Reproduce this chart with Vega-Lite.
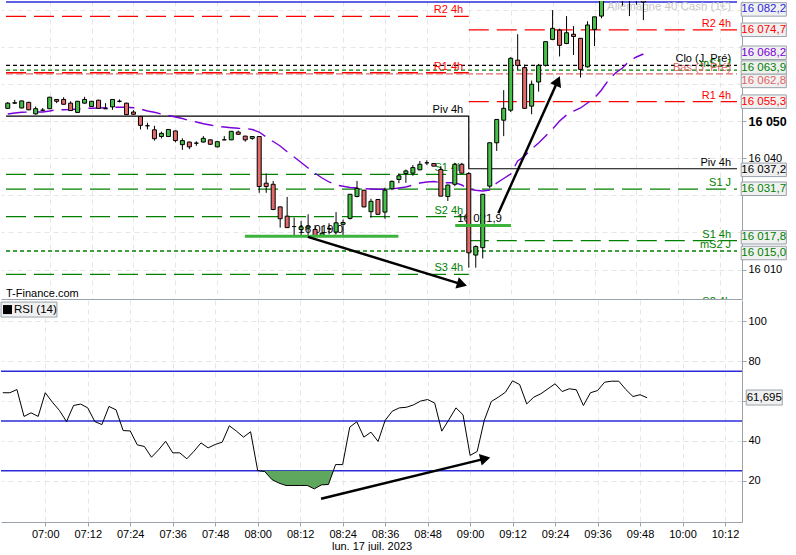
{
  "$schema": "https://vega.github.io/schema/vega-lite/v6.json",
  "padding": 0,
  "background": "white",
  "spacing": 1,
  "config": {
    "view": {"stroke": null},
    "font": "Liberation Sans",
    "text": {"font": "Liberation Sans", "fontSize": 11},
    "axis": {"labelFont": "Liberation Sans", "titleFont": "Liberation Sans", "labelColor": "#000000", "titleColor": "#000000"}
  },
  "resolve": {"scale": {"x": "independent", "y": "independent", "color": "independent"}},
  "datasets": {
    "bars": [
      {"m": 48, "o": 16053.5, "h": 16055.2, "l": 16053.3, "c": 16054.9, "ma": 16051.97, "rsi": 64.2},
      {"m": 50, "o": 16054.9, "h": 16055.8, "l": 16054.7, "c": 16055.0, "ma": 16052.24, "rsi": 64.2},
      {"m": 52, "o": 16053.6, "h": 16055.6, "l": 16053.5, "c": 16055.5, "ma": 16052.43, "rsi": 65.8},
      {"m": 54, "o": 16055.1, "h": 16055.3, "l": 16053.0, "c": 16053.1, "ma": 16052.51, "rsi": 52.3},
      {"m": 56, "o": 16052.0, "h": 16054.0, "l": 16051.8, "c": 16053.4, "ma": 16052.51, "rsi": 54.1},
      {"m": 58, "o": 16053.0, "h": 16053.6, "l": 16052.8, "c": 16053.0, "ma": 16052.51, "rsi": 52.3},
      {"m": 60, "o": 16053.4, "h": 16056.6, "l": 16053.3, "c": 16056.5, "ma": 16052.78, "rsi": 64.2},
      {"m": 62, "o": 16055.9, "h": 16056.0, "l": 16054.9, "c": 16055.4, "ma": 16053.13, "rsi": 59.5},
      {"m": 64, "o": 16055.9, "h": 16056.5, "l": 16054.5, "c": 16054.6, "ma": 16053.13, "rsi": 55.3},
      {"m": 66, "o": 16054.9, "h": 16055.4, "l": 16052.8, "c": 16052.9, "ma": 16053.19, "rsi": 49.7},
      {"m": 68, "o": 16052.4, "h": 16055.5, "l": 16052.3, "c": 16055.4, "ma": 16053.32, "rsi": 57.8},
      {"m": 70, "o": 16054.9, "h": 16056.6, "l": 16054.8, "c": 16055.9, "ma": 16053.51, "rsi": 58.5},
      {"m": 72, "o": 16054.0, "h": 16055.5, "l": 16053.9, "c": 16055.4, "ma": 16053.51, "rsi": 56.6},
      {"m": 74, "o": 16055.7, "h": 16055.8, "l": 16053.4, "c": 16053.5, "ma": 16053.59, "rsi": 49.7},
      {"m": 76, "o": 16053.4, "h": 16054.9, "l": 16053.4, "c": 16053.4, "ma": 16053.67, "rsi": 48.2},
      {"m": 78, "o": 16053.9, "h": 16056.0, "l": 16053.1, "c": 16055.9, "ma": 16053.78, "rsi": 57.3},
      {"m": 80, "o": 16055.4, "h": 16055.9, "l": 16055.1, "c": 16055.4, "ma": 16053.78, "rsi": 55.6},
      {"m": 82, "o": 16054.9, "h": 16055.0, "l": 16051.7, "c": 16051.8, "ma": 16053.78, "rsi": 45.2},
      {"m": 84, "o": 16052.5, "h": 16053.0, "l": 16051.8, "c": 16051.9, "ma": 16053.64, "rsi": 45.0},
      {"m": 86, "o": 16051.3, "h": 16051.4, "l": 16047.8, "c": 16048.9, "ma": 16053.32, "rsi": 38.0},
      {"m": 88, "o": 16048.8, "h": 16049.6, "l": 16047.8, "c": 16048.8, "ma": 16052.78, "rsi": 37.2},
      {"m": 90, "o": 16047.7, "h": 16048.8, "l": 16044.8, "c": 16045.3, "ma": 16052.43, "rsi": 31.8},
      {"m": 92, "o": 16045.9, "h": 16047.2, "l": 16045.4, "c": 16046.75, "ma": 16051.97, "rsi": 35.5},
      {"m": 94, "o": 16045.9, "h": 16047.9, "l": 16045.8, "c": 16047.8, "ma": 16051.57, "rsi": 39.8},
      {"m": 96, "o": 16047.4, "h": 16047.5, "l": 16044.3, "c": 16044.8, "ma": 16051.16, "rsi": 34.0},
      {"m": 98, "o": 16043.7, "h": 16045.4, "l": 16042.3, "c": 16044.8, "ma": 16050.76, "rsi": 34.0},
      {"m": 100, "o": 16044.4, "h": 16044.5, "l": 16042.5, "c": 16043.1, "ma": 16050.22, "rsi": 31.0},
      {"m": 102, "o": 16044.1, "h": 16044.6, "l": 16043.4, "c": 16044.1, "ma": 16049.81, "rsi": 34.8},
      {"m": 104, "o": 16044.4, "h": 16046.0, "l": 16044.3, "c": 16045.4, "ma": 16049.35, "rsi": 39.0},
      {"m": 106, "o": 16045.0, "h": 16045.1, "l": 16043.7, "c": 16043.8, "ma": 16049.0, "rsi": 36.5},
      {"m": 108, "o": 16043.1, "h": 16044.6, "l": 16043.0, "c": 16044.5, "ma": 16048.65, "rsi": 38.2},
      {"m": 110, "o": 16045.0, "h": 16046.0, "l": 16045.0, "c": 16045.0, "ma": 16048.46, "rsi": 39.4},
      {"m": 112, "o": 16045.0, "h": 16047.3, "l": 16044.9, "c": 16047.3, "ma": 16048.27, "rsi": 47.6},
      {"m": 114, "o": 16047.1, "h": 16047.5, "l": 16046.3, "c": 16046.5, "ma": 16048.11, "rsi": 44.9},
      {"m": 116, "o": 16046.0, "h": 16046.1, "l": 16044.5, "c": 16045.0, "ma": 16048.06, "rsi": 41.9},
      {"m": 118, "o": 16045.4, "h": 16046.0, "l": 16045.0, "c": 16045.9, "ma": 16047.79, "rsi": 44.6},
      {"m": 120, "o": 16045.9, "h": 16046.0, "l": 16030.7, "c": 16032.4, "ma": 16047.11, "rsi": 25.1},
      {"m": 122, "o": 16033.3, "h": 16035.9, "l": 16030.7, "c": 16032.4, "ma": 16045.76, "rsi": 24.6},
      {"m": 124, "o": 16033.0, "h": 16033.9, "l": 16026.0, "c": 16026.2, "ma": 16044.55, "rsi": 20.6},
      {"m": 126, "o": 16026.9, "h": 16027.0, "l": 16021.3, "c": 16023.7, "ma": 16043.33, "rsi": 18.8},
      {"m": 128, "o": 16024.4, "h": 16029.6, "l": 16021.2, "c": 16021.3, "ma": 16041.8, "rsi": 17.6},
      {"m": 130, "o": 16021.6, "h": 16024.0, "l": 16019.0, "c": 16021.6, "ma": 16040.36, "rsi": 17.6},
      {"m": 132, "o": 16020.8, "h": 16023.1, "l": 16019.0, "c": 16021.5, "ma": 16038.88, "rsi": 17.6},
      {"m": 134, "o": 16021.2, "h": 16024.9, "l": 16019.0, "c": 16021.7, "ma": 16037.4, "rsi": 17.6},
      {"m": 136, "o": 16020.8, "h": 16022.0, "l": 16018.9, "c": 16019.0, "ma": 16035.97, "rsi": 15.9},
      {"m": 138, "o": 16019.0, "h": 16021.7, "l": 16018.9, "c": 16019.8, "ma": 16034.7, "rsi": 17.9},
      {"m": 140, "o": 16021.0, "h": 16022.5, "l": 16019.5, "c": 16021.0, "ma": 16033.62, "rsi": 18.1},
      {"m": 142, "o": 16020.1, "h": 16025.5, "l": 16019.5, "c": 16022.6, "ma": 16032.81, "rsi": 28.1},
      {"m": 144, "o": 16022.2, "h": 16023.5, "l": 16019.0, "c": 16022.7, "ma": 16032.46, "rsi": 28.1},
      {"m": 146, "o": 16023.8, "h": 16030.3, "l": 16023.5, "c": 16030.3, "ma": 16032.13, "rsi": 46.9},
      {"m": 148, "o": 16029.7, "h": 16033.9, "l": 16029.5, "c": 16031.9, "ma": 16032.0, "rsi": 49.6},
      {"m": 150, "o": 16031.4, "h": 16031.5, "l": 16026.8, "c": 16026.9, "ma": 16031.81, "rsi": 41.9},
      {"m": 152, "o": 16025.6, "h": 16029.1, "l": 16024.0, "c": 16028.4, "ma": 16031.73, "rsi": 44.4},
      {"m": 154, "o": 16028.9, "h": 16029.0, "l": 16024.8, "c": 16024.9, "ma": 16031.65, "rsi": 39.7},
      {"m": 156, "o": 16025.5, "h": 16032.1, "l": 16023.7, "c": 16031.4, "ma": 16031.65, "rsi": 50.3},
      {"m": 158, "o": 16031.8, "h": 16034.0, "l": 16031.4, "c": 16033.8, "ma": 16031.73, "rsi": 54.9},
      {"m": 160, "o": 16034.3, "h": 16035.9, "l": 16033.3, "c": 16035.3, "ma": 16032.0, "rsi": 56.6},
      {"m": 162, "o": 16035.9, "h": 16037.0, "l": 16033.4, "c": 16036.6, "ma": 16032.27, "rsi": 56.9},
      {"m": 164, "o": 16036.0, "h": 16038.2, "l": 16035.3, "c": 16037.5, "ma": 16032.81, "rsi": 58.1},
      {"m": 166, "o": 16036.9, "h": 16039.3, "l": 16036.8, "c": 16038.4, "ma": 16033.35, "rsi": 60.0},
      {"m": 168, "o": 16038.8, "h": 16039.5, "l": 16038.2, "c": 16038.8, "ma": 16033.62, "rsi": 60.8},
      {"m": 170, "o": 16038.6, "h": 16038.7, "l": 16037.9, "c": 16037.9, "ma": 16033.75, "rsi": 59.0},
      {"m": 172, "o": 16037.0, "h": 16037.9, "l": 16029.8, "c": 16029.8, "ma": 16033.43, "rsi": 44.9},
      {"m": 174, "o": 16029.7, "h": 16032.9, "l": 16028.5, "c": 16032.8, "ma": 16033.43, "rsi": 50.6},
      {"m": 176, "o": 16033.0, "h": 16038.8, "l": 16032.5, "c": 16038.4, "ma": 16033.43, "rsi": 56.6},
      {"m": 178, "o": 16038.4, "h": 16038.8, "l": 16035.9, "c": 16036.0, "ma": 16032.81, "rsi": 53.1},
      {"m": 180, "o": 16035.9, "h": 16036.3, "l": 16010.5, "c": 16014.5, "ma": 16031.73, "rsi": 32.7},
      {"m": 182, "o": 16013.9, "h": 16016.5, "l": 16010.5, "c": 16016.2, "ma": 16031.38, "rsi": 34.7},
      {"m": 184, "o": 16015.9, "h": 16030.4, "l": 16013.0, "c": 16030.3, "ma": 16031.19, "rsi": 50.3},
      {"m": 186, "o": 16032.5, "h": 16044.3, "l": 16031.9, "c": 16044.2, "ma": 16031.46, "rsi": 59.8},
      {"m": 188, "o": 16044.2, "h": 16050.6, "l": 16042.0, "c": 16050.5, "ma": 16033.35, "rsi": 62.0},
      {"m": 190, "o": 16050.3, "h": 16058.4, "l": 16046.0, "c": 16053.5, "ma": 16034.56, "rsi": 64.5},
      {"m": 192, "o": 16053.0, "h": 16067.3, "l": 16052.5, "c": 16067.0, "ma": 16035.78, "rsi": 70.2},
      {"m": 194, "o": 16066.5, "h": 16073.5, "l": 16063.9, "c": 16065.1, "ma": 16039.29, "rsi": 68.3},
      {"m": 196, "o": 16064.5, "h": 16065.3, "l": 16053.4, "c": 16053.5, "ma": 16040.63, "rsi": 58.6},
      {"m": 198, "o": 16054.1, "h": 16061.0, "l": 16051.9, "c": 16060.0, "ma": 16042.52, "rsi": 62.0},
      {"m": 200, "o": 16060.6, "h": 16065.5, "l": 16058.0, "c": 16065.1, "ma": 16044.14, "rsi": 63.7},
      {"m": 202, "o": 16065.1, "h": 16071.6, "l": 16064.8, "c": 16071.5, "ma": 16046.03, "rsi": 66.2},
      {"m": 204, "o": 16072.1, "h": 16080.0, "l": 16071.9, "c": 16075.1, "ma": 16047.92, "rsi": 68.7},
      {"m": 206, "o": 16074.6, "h": 16075.0, "l": 16067.5, "c": 16070.5, "ma": 16050.08, "rsi": 64.8},
      {"m": 208, "o": 16071.0, "h": 16078.4, "l": 16070.8, "c": 16073.9, "ma": 16051.7, "rsi": 66.2},
      {"m": 210, "o": 16073.5, "h": 16075.7, "l": 16067.9, "c": 16072.9, "ma": 16052.78, "rsi": 65.7},
      {"m": 212, "o": 16072.4, "h": 16072.5, "l": 16061.8, "c": 16064.0, "ma": 16053.59, "rsi": 57.8},
      {"m": 214, "o": 16064.7, "h": 16077.0, "l": 16064.5, "c": 16076.0, "ma": 16054.94, "rsi": 64.2},
      {"m": 216, "o": 16074.8, "h": 16078.2, "l": 16070.3, "c": 16078.2, "ma": 16056.29, "rsi": 65.3},
      {"m": 218, "o": 16078.4, "h": 16087.0, "l": 16077.8, "c": 16085.5, "ma": 16058.45, "rsi": 69.5},
      {"m": 220, "o": 16085.5, "h": 16088.0, "l": 16084.0, "c": 16087.0, "ma": 16061.15, "rsi": 70.0},
      {"m": 222, "o": 16087.0, "h": 16089.0, "l": 16085.0, "c": 16087.5, "ma": 16063.04, "rsi": 70.0},
      {"m": 224, "o": 16087.5, "h": 16088.0, "l": 16081.2, "c": 16084.5, "ma": 16064.39, "rsi": 65.8},
      {"m": 226, "o": 16085.0, "h": 16086.0, "l": 16078.4, "c": 16083.5, "ma": 16066.28, "rsi": 62.3},
      {"m": 228, "o": 16083.5, "h": 16085.0, "l": 16081.5, "c": 16084.0, "ma": 16067.36, "rsi": 63.2},
      {"m": 230, "o": 16084.0, "h": 16084.5, "l": 16077.3, "c": 16082.2, "ma": 16068.17, "rsi": 61.7}
    ],
    "levels": [
      {"kind": "r4h", "v": 16078.3, "m1": 47.5, "m2": 180},
      {"kind": "r4h", "v": 16063.1, "m1": 47.5, "m2": 180},
      {"kind": "s4h", "v": 16035.7, "m1": 47.5, "m2": 180},
      {"kind": "s4h", "v": 16024.25, "m1": 47.5, "m2": 180},
      {"kind": "s4h", "v": 16008.7, "m1": 47.5, "m2": 180},
      {"kind": "r4h", "v": 16074.7, "m1": 180, "m2": 256.8},
      {"kind": "r4h", "v": 16055.3, "m1": 180, "m2": 256.8},
      {"kind": "s4h", "v": 16017.8, "m1": 180, "m2": 256.8},
      {"kind": "clo", "v": 16065.1, "m1": 47.5, "m2": 256.8},
      {"kind": "msj", "v": 16063.8, "m1": 47.5, "m2": 256.8},
      {"kind": "bas", "v": 16062.8, "m1": 47.5, "m2": 256.8},
      {"kind": "sj", "v": 16031.7, "m1": 47.5, "m2": 256.8},
      {"kind": "msj", "v": 16015.0, "m1": 47.5, "m2": 256.8},
      {"kind": "last", "v": 16082.2, "m1": 47.5, "m2": 256.8}
    ],
    "pivot": [
      {"n": 1, "m": 47.5, "v": 16051.4},
      {"n": 2, "m": 180, "v": 16051.4},
      {"n": 3, "m": 180, "v": 16037.2},
      {"n": 4, "m": 256.8, "v": 16037.2}
    ],
    "labels": [
      {"text": "R2 4h", "kind": "r4h", "v": 16078.3, "m": 178.4},
      {"text": "R1 4h", "kind": "r4h", "v": 16063.1, "m": 178.4},
      {"text": "Piv 4h", "kind": "piv", "v": 16051.4, "m": 178.4},
      {"text": "S1 4h", "kind": "s4h", "v": 16035.7, "m": 178.4},
      {"text": "S2 4h", "kind": "s4h", "v": 16024.25, "m": 178.4},
      {"text": "S3 4h", "kind": "s4h", "v": 16008.7, "m": 178.4},
      {"text": "R2 4h", "kind": "r4h", "v": 16074.7, "m": 255.1},
      {"text": "Clo (J. Pré)", "kind": "clo", "v": 16065.1, "m": 255.1},
      {"text": "mS1 J", "kind": "msj", "v": 16063.8, "m": 255.1},
      {"text": "Bas (J. Pré)", "kind": "bas", "v": 16062.8, "m": 255.1},
      {"text": "R1 4h", "kind": "r4h", "v": 16055.3, "m": 255.1},
      {"text": "Piv 4h", "kind": "piv", "v": 16037.2, "m": 255.1},
      {"text": "S1 J", "kind": "sj", "v": 16031.7, "m": 255.1},
      {"text": "S1 4h", "kind": "s4h", "v": 16017.8, "m": 255.1},
      {"text": "mS2 J", "kind": "msj", "v": 16015.0, "m": 255.1},
      {"text": "S2 4h", "kind": "s4h", "v": 15999.7, "m": 255.1}
    ],
    "tags": [
      {"text": "16 082,2", "kind": "last", "v": 16080.2},
      {"text": "16 074,7", "kind": "r4h", "v": 16074.7},
      {"text": "16 068,2", "kind": "ma", "v": 16068.5},
      {"text": "16 063,9", "kind": "msj", "v": 16064.5},
      {"text": "16 062,8", "kind": "bas", "v": 16060.9},
      {"text": "16 055,3", "kind": "r4h", "v": 16055.3},
      {"text": "16 037,2", "kind": "piv", "v": 16036.9},
      {"text": "16 031,7", "kind": "sj", "v": 16031.8},
      {"text": "16 017,8", "kind": "s4h", "v": 16018.7},
      {"text": "16 015,0", "kind": "msj", "v": 16014.45}
    ],
    "supports": [
      {"m1": 115.9, "m2": 159.85, "v": 16019.0, "text": "16 019,0", "ml": 137.6},
      {"m1": 176.12, "m2": 192.08, "v": 16021.9, "text": "16 021,9", "ml": 183.1}
    ],
    "arrows": [
      {"id": "a1", "m": 133.93, "v": 16018.8},
      {"id": "a1", "m": 178.07, "v": 16006.0},
      {"id": "a2", "m": 188.47, "v": 16025.2},
      {"id": "a2", "m": 205.47, "v": 16060.9}
    ],
    "notes": [
      {"text": "Allemagne 40 Cash (1€)", "m": 255.1, "v": 16080.9},
      {"text": "T-Finance.com", "m": 47.5, "v": 16002.6}
    ],
    "rsiLevels": [{"v": 25}, {"v": 50}, {"v": 75}],
    "rsiFill": [
      {"m": 120, "rsi": 25.0},
      {"m": 122, "rsi": 24.6},
      {"m": 124, "rsi": 20.6},
      {"m": 126, "rsi": 18.8},
      {"m": 128, "rsi": 17.6},
      {"m": 130, "rsi": 17.6},
      {"m": 132, "rsi": 17.6},
      {"m": 134, "rsi": 17.6},
      {"m": 136, "rsi": 15.9},
      {"m": 138, "rsi": 17.9},
      {"m": 140, "rsi": 18.1},
      {"m": 141.4, "rsi": 25.0}
    ],
    "rsiArrow": [
      {"m": 137.9, "v": 10.9},
      {"m": 184.28, "v": 31.1}
    ]
  },
  "vconcat": [
    {
      "width": 741,
      "height": 298,
      "layer": [
        {
          "data": {"name": "levels"},
          "transform": [{"filter": "datum.kind == 'r4h' || datum.kind == 's4h' || datum.kind == 'sj'"}],
          "mark": {"type": "rule", "strokeWidth": 1.3, "strokeDash": [20, 8]},
          "encoding": {
            "x": {
              "field": "m1", "type": "quantitative", "title": null,
              "scale": {"domain": [47.5, 256.8], "nice": false, "zero": false},
              "axis": {
                "values": [60, 72, 84, 96, 108, 120, 132, 144, 156, 168, 180, 192, 204, 216, 228, 240, 252],
                "labels": false, "ticks": false, "domain": true, "domainColor": "#9aa3ab",
                "grid": true, "gridColor": "#e6e6e6", "gridDash": [5, 4], "zindex": 0
              }
            },
            "x2": {"field": "m2"},
            "y": {
              "field": "v", "type": "quantitative", "title": null,
              "scale": {"domain": [16002.04, 16082.47], "nice": false, "zero": false},
              "axis": {
                "orient": "right",
                "values": [16010, 16020, 16030, 16040, 16050, 16060, 16070, 16080],
                "labelExpr": "indexof([16010, 16040, 16050], datum.value) >= 0 ? replace(format(datum.value, ','), ',', ' ') : ''",
                "labelFontWeight": {"condition": {"test": "datum.value == 16050", "value": "bold"}, "value": "normal"},
                "labelFontSize": {"condition": {"test": "datum.value == 16050", "value": 12.5}, "value": 11},
                "labelOverlap": false,
                "tickSize": 4, "tickColor": "#9aa3ab", "domainColor": "#9aa3ab", "labelPadding": 2,
                "grid": true, "gridColor": "#e6e6e6", "gridDash": [5, 4], "zindex": 0
              }
            },
            "color": {
              "field": "kind", "type": "nominal", "legend": null,
              "scale": {
                "domain": ["r4h", "s4h", "piv", "clo", "msj", "bas", "sj", "last", "ma"],
                "range": ["#ff0000", "#008000", "#000000", "#000000", "#008000", "#e06666", "#008000", "#2b2bd9", "#7a00d9"]
              }
            }
          }
        },
        {
          "data": {"name": "levels"},
          "transform": [{"filter": "datum.kind == 'clo' || datum.kind == 'msj'"}],
          "mark": {"type": "rule", "strokeWidth": 1.3, "strokeDash": [4, 3]},
          "encoding": {
            "x": {"field": "m1", "type": "quantitative", "title": null},
            "x2": {"field": "m2"},
            "y": {"field": "v", "type": "quantitative", "title": null},
            "color": {"field": "kind", "type": "nominal", "legend": null}
          }
        },
        {
          "data": {"name": "levels"},
          "transform": [{"filter": "datum.kind == 'bas'"}],
          "mark": {"type": "rule", "strokeWidth": 1.3, "strokeDash": [7, 3]},
          "encoding": {
            "x": {"field": "m1", "type": "quantitative", "title": null},
            "x2": {"field": "m2"},
            "y": {"field": "v", "type": "quantitative", "title": null},
            "color": {"field": "kind", "type": "nominal", "legend": null}
          }
        },
        {
          "data": {"name": "levels"},
          "transform": [{"filter": "datum.kind == 'last'"}],
          "mark": {"type": "rule", "strokeWidth": 1.5},
          "encoding": {
            "x": {"field": "m1", "type": "quantitative", "title": null},
            "x2": {"field": "m2"},
            "y": {"field": "v", "type": "quantitative", "title": null},
            "color": {"field": "kind", "type": "nominal", "legend": null}
          }
        },
        {
          "data": {"name": "pivot"},
          "mark": {"type": "line", "color": "#000000", "strokeWidth": 1.2},
          "encoding": {
            "x": {"field": "m", "type": "quantitative", "title": null},
            "y": {"field": "v", "type": "quantitative", "title": null},
            "order": {"field": "n", "type": "quantitative"}
          }
        },
        {
          "data": {"name": "labels"},
          "mark": {"type": "text", "align": "right", "baseline": "alphabetic", "dy": -3, "fontSize": 11, "clip": true},
          "encoding": {
            "x": {"field": "m", "type": "quantitative", "title": null},
            "y": {"field": "v", "type": "quantitative", "title": null},
            "text": {"field": "text"},
            "color": {"field": "kind", "type": "nominal", "legend": null}
          }
        },
        {
          "data": {"name": "notes"},
          "transform": [{"filter": "datum.m > 100"}],
          "mark": {"type": "text", "align": "right", "baseline": "middle", "fontSize": 11.5, "color": "#c8c8c8"},
          "encoding": {
            "x": {"field": "m", "type": "quantitative", "title": null},
            "y": {"field": "v", "type": "quantitative", "title": null},
            "text": {"field": "text"}
          }
        },
        {
          "data": {"name": "notes"},
          "transform": [{"filter": "datum.m < 100"}],
          "mark": {"type": "text", "align": "left", "baseline": "alphabetic", "fontSize": 11, "color": "#000000"},
          "encoding": {
            "x": {"field": "m", "type": "quantitative", "title": null},
            "y": {"field": "v", "type": "quantitative", "title": null},
            "text": {"field": "text"}
          }
        },
        {
          "data": {"name": "supports"},
          "mark": {"type": "text", "align": "center", "baseline": "alphabetic", "dy": -3, "fontSize": 11.5, "color": "#000000"},
          "encoding": {
            "x": {"field": "ml", "type": "quantitative", "title": null},
            "y": {"field": "v", "type": "quantitative", "title": null},
            "text": {"field": "text"}
          }
        },
        {
          "data": {"name": "bars"},
          "mark": {"type": "line", "color": "#7a00d9", "strokeWidth": 1.4, "strokeDash": [19, 8], "clip": true},
          "encoding": {
            "x": {"field": "m", "type": "quantitative", "title": null},
            "y": {"field": "ma", "type": "quantitative", "title": null}
          }
        },
        {
          "data": {"name": "bars"},
          "mark": {"type": "rule", "color": "#000000", "strokeWidth": 1, "clip": true},
          "encoding": {
            "x": {"field": "m", "type": "quantitative", "title": null},
            "y": {"field": "l", "type": "quantitative", "title": null},
            "y2": {"field": "h"}
          }
        },
        {
          "data": {"name": "bars"},
          "mark": {"type": "bar", "width": 4, "stroke": "#000000", "strokeWidth": 1, "clip": true},
          "encoding": {
            "x": {"field": "m", "type": "quantitative", "title": null},
            "y": {"field": "o", "type": "quantitative", "title": null},
            "y2": {"field": "c"},
            "color": {
              "condition": {"test": "datum.c >= datum.o", "value": "#47c047"},
              "value": "#e26a6a"
            }
          }
        },
        {
          "data": {"name": "supports"},
          "mark": {"type": "rule", "color": "#3cb43c", "strokeWidth": 3},
          "encoding": {
            "x": {"field": "m1", "type": "quantitative", "title": null},
            "x2": {"field": "m2"},
            "y": {"field": "v", "type": "quantitative", "title": null}
          }
        },
        {
          "data": {"name": "arrows"},
          "mark": {"type": "line", "color": "#000000", "strokeWidth": 2.5},
          "encoding": {
            "x": {"field": "m", "type": "quantitative", "title": null},
            "y": {"field": "v", "type": "quantitative", "title": null},
            "detail": {"field": "id"}
          }
        },
        {
          "data": {"name": "arrows"},
          "transform": [{"filter": "datum.id == 'a1' && datum.v < 16010"}],
          "mark": {"type": "point", "shape": "triangle-right", "filled": true, "color": "#000000", "opacity": 1, "size": 140, "angle": 16.5},
          "encoding": {
            "x": {"field": "m", "type": "quantitative", "title": null},
            "y": {"field": "v", "type": "quantitative", "title": null}
          }
        },
        {
          "data": {"name": "arrows"},
          "transform": [{"filter": "datum.id == 'a2' && datum.v > 16050"}],
          "mark": {"type": "point", "shape": "triangle-right", "filled": true, "color": "#000000", "opacity": 1, "size": 140, "angle": 294.2},
          "encoding": {
            "x": {"field": "m", "type": "quantitative", "title": null},
            "y": {"field": "v", "type": "quantitative", "title": null}
          }
        },
        {
          "data": {"name": "tags"},
          "mark": {"type": "rect", "fill": "#f0f0f0", "stroke": "#9aa3ab", "strokeWidth": 1, "yOffset": -6.75, "y2Offset": 6.75},
          "encoding": {
            "x": {"datum": 258.0, "type": "quantitative"},
            "x2": {"datum": 270.92},
            "y": {"field": "v", "type": "quantitative", "title": null},
            "y2": {"field": "v"}
          }
        },
        {
          "data": {"name": "tags"},
          "mark": {"type": "text", "align": "center", "baseline": "middle", "fontSize": 11.5},
          "encoding": {
            "x": {"datum": 264.45, "type": "quantitative"},
            "y": {"field": "v", "type": "quantitative", "title": null},
            "text": {"field": "text"},
            "color": {"field": "kind", "type": "nominal", "legend": null}
          }
        }
      ]
    },
    {
      "width": 741,
      "height": 222,
      "layer": [
        {
          "data": {"name": "rsiLevels"},
          "mark": {"type": "rule", "color": "#2b2bd9", "strokeWidth": 1.3},
          "encoding": {
            "y": {
              "field": "v", "type": "quantitative", "title": null,
              "scale": {"domain": [-0.75, 110.8], "nice": false, "zero": false},
              "axis": {
                "orient": "right",
                "values": [20, 40, 60, 80, 100],
                "tickSize": 4, "tickColor": "#9aa3ab", "domainColor": "#9aa3ab", "labelPadding": 2,
                "labelFontSize": 11,
                "grid": true, "gridColor": "#e6e6e6", "gridDash": [5, 4],
                "zindex": 0
              }
            }
          }
        },
        {
          "data": {"name": "rsiFill"},
          "mark": {"type": "area", "color": "#5fa65f", "opacity": 1},
          "encoding": {
            "x": {
              "field": "m", "type": "quantitative",
              "scale": {"domain": [47.5, 256.8], "nice": false, "zero": false},
              "axis": {
                "title": "lun. 17 juil. 2023",
                "values": [60, 72, 84, 96, 108, 120, 132, 144, 156, 168, 180, 192, 204, 216, 228, 240, 252],
                "labelExpr": "pad(toString(floor(datum.value / 60) + 6), 2, '0', 'left') + ':' + pad(toString(datum.value % 60), 2, '0', 'left')",
                "labelFontSize": 11, "labelPadding": 2, "labelFlush": false, "labelOverlap": false,
                "tickSize": 4, "tickColor": "#9aa3ab", "domainColor": "#9aa3ab",
                "grid": true, "gridColor": "#e6e6e6", "gridDash": [5, 4],
                "titleFontSize": 11, "titleFontWeight": "normal", "titlePadding": 1, "zindex": 0
              }
            },
            "y": {"field": "rsi", "type": "quantitative"},
            "y2": {"datum": 25}
          }
        },
        {
          "data": {"name": "bars"},
          "mark": {"type": "line", "color": "#000000", "strokeWidth": 1},
          "encoding": {
            "x": {"field": "m", "type": "quantitative"},
            "y": {"field": "rsi", "type": "quantitative"}
          }
        },
        {
          "data": {"name": "rsiArrow"},
          "mark": {"type": "line", "color": "#000000", "strokeWidth": 2.5},
          "encoding": {
            "x": {"field": "m", "type": "quantitative"},
            "y": {"field": "v", "type": "quantitative"}
          }
        },
        {
          "data": {"name": "rsiArrow"},
          "transform": [{"filter": "datum.v > 20"}],
          "mark": {"type": "point", "shape": "triangle-right", "filled": true, "color": "#000000", "opacity": 1, "size": 140, "angle": 346.2},
          "encoding": {
            "x": {"field": "m", "type": "quantitative"},
            "y": {"field": "v", "type": "quantitative"}
          }
        },
        {
          "data": {"values": [{"text": "RSI (14)", "v": 106.0}]},
          "mark": {"type": "rect", "fill": "#f0f0f0", "stroke": "#9aa3ab", "strokeWidth": 1, "yOffset": -7.5, "y2Offset": 7.5},
          "encoding": {
            "x": {"datum": 47.5, "type": "quantitative"},
            "x2": {"datum": 63.3},
            "y": {"field": "v", "type": "quantitative"},
            "y2": {"field": "v"}
          }
        },
        {
          "data": {"values": [{"m": 49.33, "v": 106.0}]},
          "mark": {"type": "point", "shape": "square", "filled": true, "color": "#000000", "opacity": 1, "size": 81},
          "encoding": {
            "x": {"field": "m", "type": "quantitative"},
            "y": {"field": "v", "type": "quantitative"}
          }
        },
        {
          "data": {"values": [{"text": "RSI (14)", "m": 51.17, "v": 106.0}]},
          "mark": {"type": "text", "align": "left", "baseline": "middle", "fontSize": 11.5, "color": "#000000"},
          "encoding": {
            "x": {"field": "m", "type": "quantitative"},
            "y": {"field": "v", "type": "quantitative"},
            "text": {"field": "text"}
          }
        },
        {
          "data": {"values": [{"text": "61,695", "v": 61.8}]},
          "mark": {"type": "rect", "fill": "#f0f0f0", "stroke": "#9aa3ab", "strokeWidth": 1, "yOffset": -7.5, "y2Offset": 7.5},
          "encoding": {
            "x": {"datum": 258.0, "type": "quantitative"},
            "x2": {"datum": 268.17},
            "y": {"field": "v", "type": "quantitative"},
            "y2": {"field": "v"}
          }
        },
        {
          "data": {"values": [{"text": "61,695", "v": 61.8}]},
          "mark": {"type": "text", "align": "center", "baseline": "middle", "fontSize": 11.5, "color": "#000000"},
          "encoding": {
            "x": {"datum": 263.08, "type": "quantitative"},
            "y": {"field": "v", "type": "quantitative"},
            "text": {"field": "text"}
          }
        }
      ]
    }
  ]
}
